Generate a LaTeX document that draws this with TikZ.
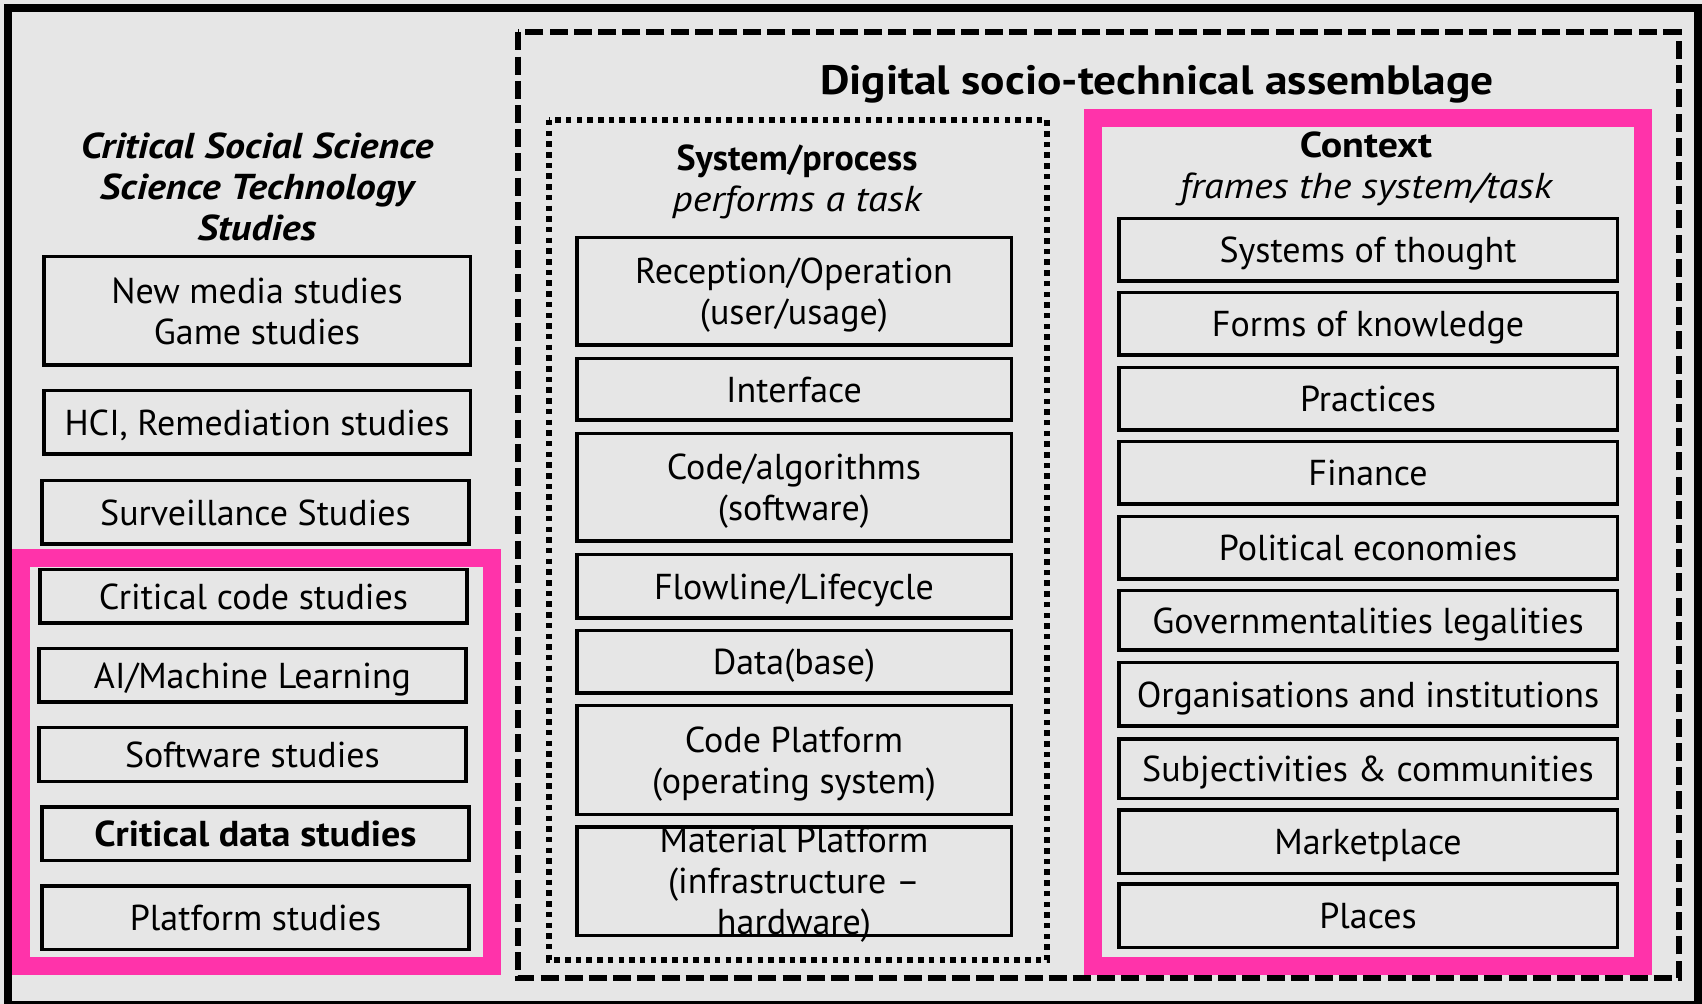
\documentclass[tikz,border=0pt]{standalone}
\usepackage{fontspec}
\setmainfont{PT Sans}
\newfontfamily\headfont[FakeStretch=1.11]{PT Sans}
\newfontfamily\boldfam[FakeStretch=1.06]{PT Sans}
\definecolor{bggray}{HTML}{E6E6E6}
\definecolor{hotpink}{HTML}{FF33AA}
\tikzset{
  basefont/.style={font=\fontsize{18}{20.5}\selectfont},
  box/.style={draw=black, line width=1.75pt, inner sep=0pt, align=center,
    text height=12.6pt, text depth=0pt, basefont},
  boxtwo/.style={box, text height=33.1pt},
  boxthree/.style={box, text height=53.6pt},
  lbox/.style={box, minimum width=213.5pt},
  mbox/.style={box, minimum width=217.25pt},
  rbox/.style={box, minimum width=249.25pt},
  headtxt/.style={inner sep=0pt, align=center, text depth=0pt,
    font=\fontsize{18}{20.5}\selectfont\headfont},
  pinkframe/.style={draw=hotpink, line width=9pt},
  dashframe/.style={draw=black, line width=3pt, dash pattern=on 9pt off 3.1pt},
  dotframe/.style={draw=black, line width=2.6pt, dash pattern=on 2.75pt off 2.6pt},
}
\begin{document}
\begin{tikzpicture}[x=0.5pt,y=-0.5pt]
\useasboundingbox (0,0) rectangle (1702,1004);
\fill[bggray] (0,0) rectangle (1702,1004);
\draw[line width=4pt] (8,8) rectangle (1698,1004.5);

% frames
\draw[dashframe] (518,32.5) rectangle (1678.5,978);
\draw[dotframe] (549,120) rectangle (1047,960);
\draw[pinkframe] (21,558) rectangle (492,966);
\draw[pinkframe] (1093,118) rectangle (1643,966);

% title
\node[inner sep=0pt, anchor=base, font=\fontsize{20.5}{24}\selectfont\headfont\bfseries] (title) at (1157,95) {Digital socio-technical assemblage};

% left column
\node[headtxt, text height=53.6pt, font=\fontsize{18}{20.5}\selectfont\headfont\bfseries\itshape] (lhead) at (257,186.5) {Critical Social Science\\Science Technology\\Studies};
\node[lbox, boxtwo, minimum width=213.25pt, minimum height=54.25pt] (nm) at (257,311) {New media studies\\Game studies};
\node[lbox, minimum width=213.25pt, minimum height=31.75pt] (hci) at (257,422.5) {HCI, Remediation studies};
\node[lbox, minimum height=31.75pt] (surv) at (255.5,512.5) {Surveillance Studies};
\node[lbox, minimum height=26.75pt] (ccs) at (253.5,596.5) {Critical code studies};
\node[lbox, minimum height=26.75pt] (ai) at (252.5,675.5) {AI/Machine Learning};
\node[lbox, minimum height=26.75pt] (sw) at (252.5,754.5) {Software studies};
\node[lbox, minimum height=26.75pt] (cds) at (255.5,833.5) {\boldfam\bfseries Critical data studies};
\node[lbox, minimum height=31.75pt] (ps) at (255.5,917.5) {Platform studies};

% middle column
\node[headtxt, text height=32.6pt] (mhead) at (797,178.5) {\rmfamily\bfseries System/process\\\itshape performs a task};
\node[mbox, boxtwo, minimum height=53.75pt] (rec) at (794,291.5) {Reception/Operation\\(user/usage)};
\node[mbox, minimum height=30.75pt] (int) at (794,389.5) {Interface};
\node[mbox, boxtwo, minimum height=53.75pt] (code) at (794,487.5) {Code/algorithms\\(software)};
\node[mbox, minimum height=31.75pt] (flow) at (794,586.5) {Flowline/Lifecycle};
\node[mbox, minimum height=31.25pt] (data) at (794,662) {Data(base)};
\node[mbox, boxtwo, minimum height=54.25pt] (cp) at (794,760) {Code Platform\\(operating system)};
\node[mbox, boxthree, minimum height=54.25pt] (mp) at (794,881) {Material Platform\\(infrastructure –\\hardware)};

% right column
\node[headtxt, text height=33.1pt] (rhead) at (1366,165) {\bfseries Context\\\itshape frames the system/task};
\node[rbox, minimum height=31.25pt] (sot) at (1368,250) {Systems of thought};
\node[rbox, minimum height=31.25pt] (fok) at (1368,324) {Forms of knowledge};
\node[rbox, minimum height=31.25pt] (prac) at (1368,399) {Practices};
\node[rbox, minimum height=31.25pt] (fin) at (1368,473) {Finance};
\node[rbox, minimum height=31.25pt] (pol) at (1368,548) {Political economies};
\node[rbox, minimum height=29.75pt] (gov) at (1368,620.5) {Governmentalities legalities};
\node[rbox, minimum height=31.75pt] (org) at (1368,694.5) {Organisations and institutions};
\node[rbox, minimum height=29.75pt] (subj) at (1368,768.5) {Subjectivities \& communities};
\node[rbox, minimum height=31.75pt] (mkt) at (1368,841.5) {Marketplace};
\node[rbox, minimum height=31.75pt] (places) at (1368,915.5) {Places};
\end{tikzpicture}
\end{document}
